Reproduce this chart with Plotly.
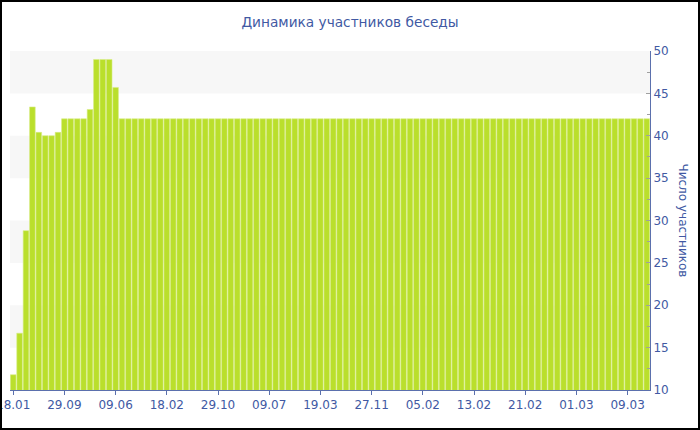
import plotly.graph_objects as go

# порядковые номера дней (категории по оси X)
day_index = list(range(100))

participants = [
    11.8, 16.7, 28.8, 43.4, 40.4, 40.0, 40.0, 40.4, 42, 42,
    42, 42, 43.1, 49, 49, 49, 45.7, 42, 42, 42,
    42, 42, 42, 42, 42, 42, 42, 42, 42, 42,
    42, 42, 42, 42, 42, 42, 42, 42, 42, 42,
    42, 42, 42, 42, 42, 42, 42, 42, 42, 42,
    42, 42, 42, 42, 42, 42, 42, 42, 42, 42,
    42, 42, 42, 42, 42, 42, 42, 42, 42, 42,
    42, 42, 42, 42, 42, 42, 42, 42, 42, 42,
    42, 42, 42, 42, 42, 42, 42, 42, 42, 42,
    42, 42, 42, 42, 42, 42, 42, 42, 42, 42,
]

tick_positions = [0, 8, 16, 24, 32, 40, 48, 56, 64, 72, 80, 88, 96]
tick_labels = [
    "18.01", "29.09", "09.06", "18.02", "29.10", "09.07", "19.03",
    "27.11", "05.02", "13.02", "21.02", "01.03", "09.03",
]

# серые полосы фона (нижняя и верхняя граница)
bands = [(15, 20), (25, 30), (35, 40), (45, 50)]

TEXT_BLUE = "#4159A3"
AXIS_BLUE = "#5B70AD"
FONT = "DejaVu Sans, Verdana, sans-serif"

fig = go.Figure()

fig.add_trace(
    go.Bar(
        x=day_index,
        y=participants,
        marker=dict(color="#BADF2C", line=dict(color="#D6EC86", width=0.6)),
        hovertemplate="%{y}<extra></extra>",
    )
)

for lo, hi in bands:
    fig.add_shape(
        type="rect",
        xref="paper",
        yref="y",
        x0=0,
        x1=1,
        y0=lo,
        y1=hi,
        fillcolor="#F7F7F7",
        line=dict(width=0),
        layer="below",
    )

# рамка вокруг всего графика
W, H = 700, 430
L, R, T, B = 10, 50, 51, 40
pw, ph = W - L - R, H - T - B
fig.add_shape(
    type="rect",
    xref="paper",
    yref="paper",
    x0=(1 - L) / pw,
    x1=(W - 1 - L) / pw,
    y0=-(B - 1) / ph,
    y1=1 + (T - 1) / ph,
    line=dict(color="black", width=2),
    fillcolor="rgba(0,0,0,0)",
    layer="above",
)

fig.add_annotation(
    text="Число участников",
    xref="paper",
    yref="paper",
    x=(683 - L) / pw,
    y=0.5,
    xanchor="center",
    yanchor="middle",
    textangle=90,
    showarrow=False,
    font=dict(family=FONT, size=12, color=TEXT_BLUE),
)

fig.update_layout(
    width=W,
    height=H,
    title=dict(
        text="Динамика участников беседы",
        x=0.5,
        xanchor="center",
        y=1 - 22 / H,
        yanchor="middle",
        font=dict(family=FONT, size=13.7, color=TEXT_BLUE),
    ),
    font=dict(family=FONT, size=12, color=TEXT_BLUE),
    plot_bgcolor="white",
    paper_bgcolor="white",
    showlegend=False,
    bargap=0.12,
    margin=dict(l=L, r=R, t=T, b=B),
    xaxis=dict(
        range=[-0.5, 99.5],
        tickmode="array",
        tickvals=tick_positions,
        ticktext=tick_labels,
        showgrid=False,
        zeroline=False,
        showline=True,
        linecolor=AXIS_BLUE,
        linewidth=1,
        ticks="outside",
        ticklen=4,
        tickcolor=AXIS_BLUE,
        ticklabeloverflow="allow",
        automargin=False,
        tickfont=dict(family=FONT, size=12, color=TEXT_BLUE),
    ),
    yaxis=dict(
        side="right",
        range=[10, 50],
        dtick=5,
        tick0=10,
        showgrid=False,
        zeroline=False,
        showline=True,
        linecolor=AXIS_BLUE,
        linewidth=1,
        ticks="inside",
        ticklen=4,
        tickcolor="#A0A0A0",
        automargin=False,
        minor=dict(dtick=2.5, ticks="inside", ticklen=3, tickcolor="#A0A0A0"),
        tickfont=dict(family=FONT, size=12, color=TEXT_BLUE),
    ),
)

# убираем отступ body, чтобы график начинался с левого верхнего угла окна
fig.write_html(
    "out.html",
    config={"displayModeBar": False},
    post_script="document.body.style.margin = '0';",
)
